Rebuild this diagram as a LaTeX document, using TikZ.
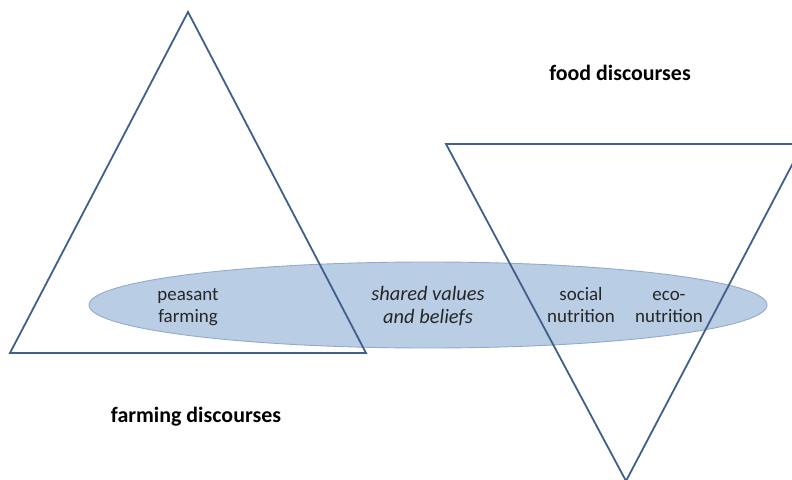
\documentclass[tikz,border=0pt]{standalone}
\usepackage{fontspec}
\setmainfont{Carlito}
\definecolor{triline}{HTML}{40608C}
\definecolor{ellfill}{HTML}{B9CDE5}
\definecolor{elledge}{HTML}{93AACA}
\begin{document}
\begin{tikzpicture}[x=1bp,y=-1bp,
  tri/.style={draw=triline,line width=1.8bp,line join=miter},
  blob/.style={fill=ellfill,draw=elledge,line width=0.9bp},
  inlabel/.style={font=\fontsize{19}{22.5}\selectfont,align=center,anchor=base,inner sep=0pt,text=black!85},
  midlabel/.style={font=\fontsize{20.5}{23.5}\selectfont\itshape,align=center,anchor=base,inner sep=0pt,text=black!85},
  boldlabel/.style={font=\fontsize{22}{26}\selectfont\bfseries,anchor=base,inner sep=0pt}]
\useasboundingbox (0,0) rectangle (792,480);
\clip (0,0) rectangle (792,480);
\fill[white] (0,0) rectangle (792,480);
% shared ellipse
\draw[blob] (428,305) ellipse [x radius=339, y radius=43];
% farming triangle
\draw[tri] (188,12) -- (366,353) -- (10,353) -- cycle;
% food triangle (inverted)
\draw[tri] (446,144) -- (803,144) -- (626,481) -- cycle;
% texts (base anchor = baseline of last line)
\node[inlabel] (peasant) at (188,322.5) {peasant\\farming};
\node[midlabel] (shared) at (428,323.5) {shared values\\and beliefs};
\node[inlabel] (social) at (581,322.5) {social\\nutrition};
\node[inlabel] (eco) at (669,322.5) {eco-\\nutrition};
\node[boldlabel] (food) at (620,81) {food discourses};
\node[boldlabel] (farming) at (196,422) {farming discourses};
\end{tikzpicture}
\end{document}
